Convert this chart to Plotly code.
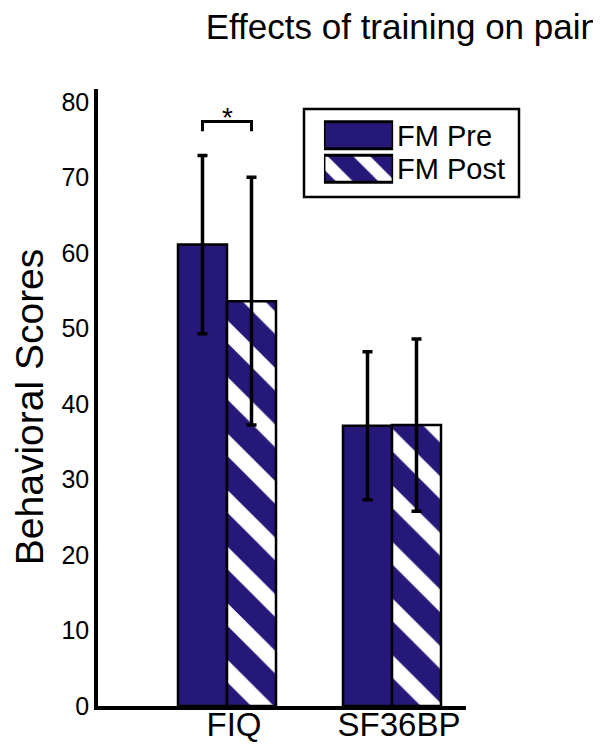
import plotly.graph_objects as go

# ---- data ----
categories = ["FIQ", "SF36BP"]
cat_pos = [1, 2]
series_names = ["FM Pre", "FM Post"]
pre_values = [61.1, 37.1]
pre_errors = [11.8, 9.8]
post_values = [53.6, 37.2]
post_errors = [16.4, 11.4]
y_ticks = [0, 10, 20, 30, 40, 50, 60, 70, 80]
title_text = "Effects of training on pain"
y_title = "Behavioral Scores"
sig_label = "*"

# ---- style ----
NAVY = "#261878"
FONT = "Liberation Sans, Arial, sans-serif"
BAR_W = 0.297
OUTLINE = dict(color="black", width=2.5)
STRIPES = dict(shape="\\", fgcolor="white", bgcolor=NAVY, size=40,
               solidity=0.4, fillmode="replace")
ERR = dict(type="data", color="black", thickness=3.5, width=5, visible=True)

fig = go.Figure()

fig.add_trace(go.Bar(
    x=cat_pos, y=pre_values, width=BAR_W, offset=-BAR_W, name=series_names[0],
    marker=dict(color=NAVY, line=OUTLINE),
    error_y=dict(array=pre_errors, **ERR), showlegend=False))
fig.add_trace(go.Bar(
    x=cat_pos, y=post_values, width=BAR_W, offset=0, name=series_names[1],
    marker=dict(color=NAVY, line=OUTLINE, pattern=STRIPES),
    error_y=dict(array=post_errors, **ERR), showlegend=False))

# ---- legend swatches on an auxiliary axis ----
fig.add_trace(go.Bar(
    orientation="h", x=[1], y=[1.5], width=0.806, base=0,
    xaxis="x2", yaxis="y2", marker=dict(color=NAVY, line=dict(color="black", width=3)),
    showlegend=False, hoverinfo="skip"))
fig.add_trace(go.Bar(
    orientation="h", x=[1], y=[0.5], width=0.806, base=0,
    xaxis="x2", yaxis="y2",
    marker=dict(color=NAVY, line=dict(color="black", width=3), pattern=dict(STRIPES, size=30)),
    showlegend=False, hoverinfo="skip"))

fig.update_layout(
    width=601, height=750,
    margin=dict(l=90, r=143, t=81, b=52, autoexpand=False),
    paper_bgcolor="white", plot_bgcolor="white",
    barmode="overlay",
    font=dict(family=FONT, color="black"),
    title=dict(text=title_text, x=0.985, xref="container", xanchor="right",
               y=0.975, yref="container", yanchor="middle",
               font=dict(size=35, family=FONT, color="black"), automargin=False),
    xaxis=dict(range=[0.2182, 2.4485], tickvals=cat_pos, ticktext=categories,
               showline=True, linecolor="black", linewidth=3.5, ticks="",
               showgrid=False, zeroline=False, tickfont=dict(size=33),
               ticklabelshift=7, ticklabelstandoff=-13, automargin=False),
    yaxis=dict(range=[0, 81.7], tickvals=y_ticks, showline=True, linecolor="black",
               linewidth=3.5, ticks="", showgrid=False, zeroline=False,
               tickfont=dict(size=25), automargin=False),
    xaxis2=dict(domain=[0.614, 0.802], anchor="y2", range=[0, 1], visible=False,
                fixedrange=True),
    yaxis2=dict(domain=[0.8436, 0.9522], anchor="x2", range=[0, 2], visible=False,
                fixedrange=True),
)

# legend box and text
fig.add_shape(type="rect", xref="paper", yref="paper", x0=0.5598, x1=1.144,
              y0=0.825, y1=0.9676, line=dict(color="black", width=2.5),
              fillcolor="rgba(0,0,0,0)", layer="below")
for name, yp in zip(series_names, [0.9238, 0.8703]):
    fig.add_annotation(text=name, xref="paper", yref="paper", x=0.806, y=yp,
                       xanchor="left", yanchor="middle", showarrow=False,
                       font=dict(size=29, family=FONT, color="black"))

# y axis title
fig.add_annotation(text=y_title, xref="paper", yref="paper", x=-0.187, y=0.4846,
                   textangle=-90, xanchor="center", yanchor="middle", showarrow=False,
                   borderpad=0, font=dict(size=39, family=FONT, color="black"))

# significance bracket
bx0 = cat_pos[0] - BAR_W / 2
bx1 = cat_pos[0] + BAR_W / 2
fig.add_shape(type="path", xref="x", yref="y",
              path=f"M {bx0},76.1 L {bx0},77.4 L {bx1},77.4 L {bx1},76.1",
              line=dict(color="black", width=3))
fig.add_annotation(text=sig_label, x=cat_pos[0], y=77.4, xref="x", yref="y",
                   xanchor="center", yanchor="bottom", showarrow=False, yshift=-14,
                   font=dict(size=28, family=FONT, color="black"))

fig.write_html("out.html")
